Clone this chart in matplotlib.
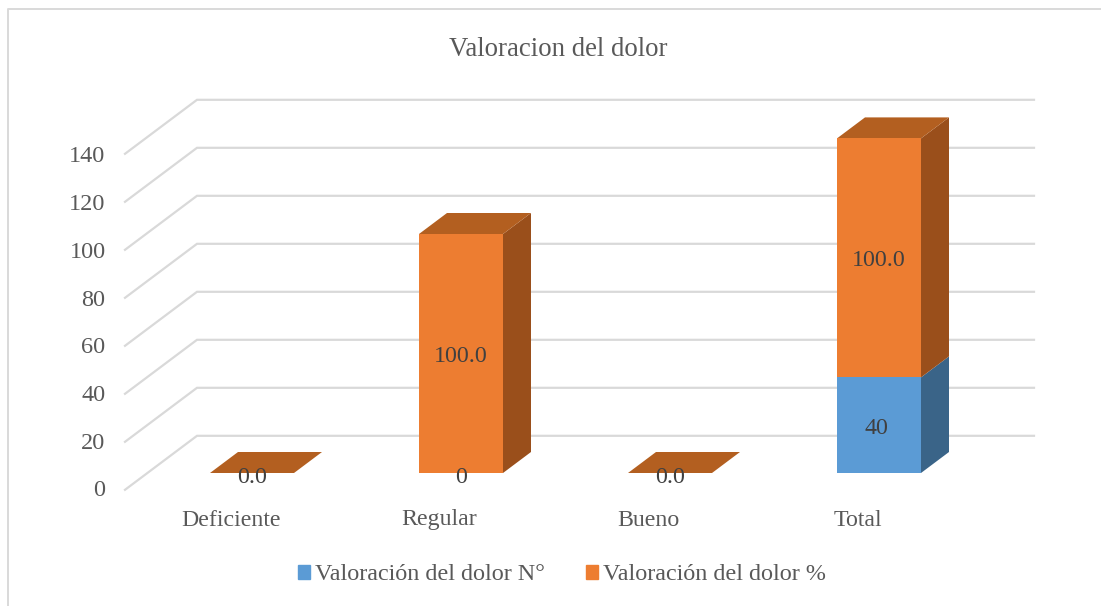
import numpy as np
import matplotlib
matplotlib.use('Agg')
import matplotlib.pyplot as plt
from matplotlib.patches import Polygon, Patch

plt.rcParams['font.family'] = ['Liberation Serif', 'DejaVu Serif']

# Donnees du graphique
categories = ['Deficiente', 'Regular', 'Bueno', 'Total']
valores_n = [0, 0, 0, 40]
valores_pct = [0, 100, 0, 100]
etiquetas_n = ['', '0', '', '40']
etiquetas_pct = ['0.0', '100.0', '0.0', '100.0']
graduaciones = [0, 20, 40, 60, 80, 100, 120, 140]
titulo = 'Valoracion del dolor'
nombre_n = 'Valoración del dolor N°'
nombre_pct = 'Valoración del dolor %'

W, H = 1101, 606
# echelle : 209 px par categorie, 2.39 px par unite, base des barres a 473 px
PX_X = 209.0
PX_Y = 2.39
X0 = 252.0
Y0 = 473.0


def px_x(p):
    return (p - X0) / PX_X


def px_y(p):
    return (Y0 - p) / PX_Y


fig = plt.figure(figsize=(W / 100, H / 100), dpi=100)
ax = fig.add_axes([0, 0, 1, 1])
ax.set_xlim(px_x(0), px_x(W))
ax.set_ylim(px_y(H), px_y(0))
ax.axis('off')

# effet 3D
largeur = 84 / PX_X
dx = 28 / PX_X
dy = 21 / PX_Y
gris = '#D9D9D9'
texte = '#595959'
texte_val = '#404040'

# mur du fond et mur lateral
dep_y = 52 / PX_Y    # du plan avant au fond
base_fond = 37.2 / PX_Y
pas = 48 / 20 / PX_Y
for g in graduaciones:
    yb = base_fond + g * pas
    ax.plot([px_x(125), px_x(197), px_x(1034)], [yb - dep_y - 2 / PX_Y, yb, yb],
            color=gris, lw=1.6, solid_joinstyle='miter', zorder=1)
    ax.text(px_x(105.5), px_y(491) + g * (334 / 140) / PX_Y, str(g), ha='right', va='center',
            fontsize=17.5, color=texte)

# cadre du graphique (haut et gauche)
ax.plot([px_x(7.5), px_x(7.5), px_x(W)], [px_y(H), px_y(9.5), px_y(9.5)], color='#D9D9D9', lw=1.4, zorder=1)


def barre(x, bas, haut, c_face, c_cote, c_dessus=None):
    g = x - largeur / 2
    d = x + largeur / 2
    ax.add_patch(Polygon([(d, bas), (d + dx, bas + dy), (d + dx, haut + dy), (d, haut)],
                         closed=True, fc=c_cote, ec='none', zorder=3))
    if c_dessus is not None:
        ax.add_patch(Polygon([(g, haut), (g + dx, haut + dy), (d + dx, haut + dy), (d, haut)],
                             closed=True, fc=c_dessus, ec='none', zorder=3))
    ax.bar(x, haut - bas, largeur, bottom=bas, color=c_face, zorder=4)


decal = 3 / PX_Y    # les libelles descendent un peu
pos = np.arange(len(categories))
for i in pos:
    n = valores_n[i]
    p = valores_pct[i]
    if n > 0:
        barre(i, 0, n, '#5B9BD5', '#3A6488')
    barre(i, n, n + p, '#ED7D31', '#9A4F1B', '#B35F20')
    if etiquetas_n[i]:
        yt = n / 2 if n > 0 else -0.5
        ax.text(i - 0.012 * (n > 0), yt - decal, etiquetas_n[i], ha='center', va='center',
                fontsize=17.3, color=texte_val, zorder=6)
    yt = n + p / 2 if p > 0 else -0.5
    ax.text(i, yt - decal, etiquetas_pct[i], ha='center', va='center', fontsize=17.3,
            color=texte_val, zorder=6)
    ax.text(i - 21.5 / PX_X, px_y(517) - decal, categories[i], ha='center', va='center',
            fontsize=17.2, color=texte)

ax.text(px_x(558.5), px_y(46) - decal, titulo, ha='center', va='center', fontsize=19.3, color=texte)

poignees = [Patch(color='#5B9BD5', label=nombre_n), Patch(color='#ED7D31', label=nombre_pct)]
ax.legend(handles=poignees, loc='center', bbox_to_anchor=(562 / W, 1 - 575 / H), ncol=2,
          frameon=False, fontsize=17.4, labelcolor=texte, handlelength=0.5, handleheight=0.5,
          handletextpad=0.2, columnspacing=1.7, borderpad=0)

fig.savefig('out.png', dpi=100, facecolor='white')
